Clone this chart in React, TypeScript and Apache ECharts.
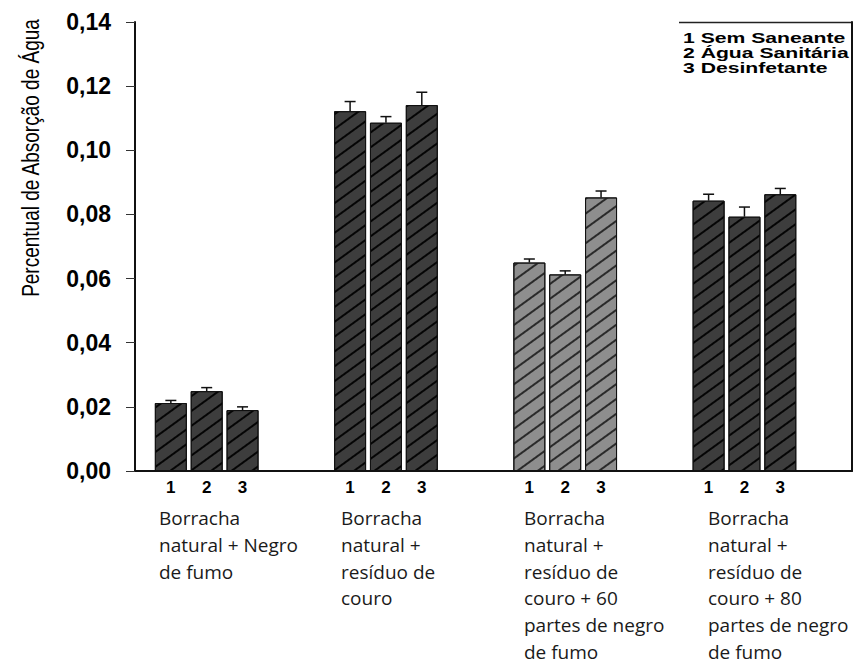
import React, { useEffect, useRef } from "react";
import * as echarts from "echarts";

const groupLabels = [
  "Borracha\nnatural + Negro\nde fumo",
  "Borracha\nnatural +\nresíduo de\ncouro",
  "Borracha\nnatural +\nresíduo de\ncouro + 60\npartes de negro\nde fumo",
  "Borracha\nnatural +\nresíduo de\ncouro + 80\npartes de negro\nde fumo",
];
const treatmentTicks = ["1", "2", "3"];
const legendLines = ["1 Sem Saneante", "2 Água Sanitária", "3 Desinfetante"];
const yTitle = "Percentual de Absorção de Água";

// means per treatment (one value per group)
const semSaneante = [0.0212, 0.1122, 0.065, 0.0843];
const aguaSanitaria = [0.0249, 0.1086, 0.0613, 0.0793];
const desinfetante = [0.019, 0.1141, 0.0853, 0.0863];
// upper error per treatment
const errSemSaneante = [0.0008, 0.003, 0.0011, 0.002];
const errAguaSanitaria = [0.0011, 0.0019, 0.0011, 0.003];
const errDesinfetante = [0.001, 0.004, 0.002, 0.0018];

const yTicks = { min: 0, max: 0.14, interval: 0.02 };

export default function App() {
  const ref = useRef<HTMLDivElement>(null);
  useEffect(() => {
    if (!ref.current) return;
    const chart = echarts.init(ref.current, null, { renderer: "svg" });
    const means = [semSaneante, aguaSanitaria, desinfetante];
    const errs = [errSemSaneante, errAguaSanitaria, errDesinfetante];
    const slot = (g: number, t: number) => 1 + g * 5 + t;
    const barData: any[] = [];
    const errData: any[] = [];
    for (let g = 0; g < groupLabels.length; g++) {
      for (let t = 0; t < 3; t++) {
        const light = g === 2;
        barData.push({
          value: [slot(g, t), means[t][g]],
          itemStyle: {
            color: light ? "#8e8e8e" : "#3d3d3d",
            borderColor: "#111",
            borderWidth: 1,
            decal: {
              symbol: "rect",
              symbolSize: 1,
              color: light ? "#2a2a2a" : "#050505",
              dashArrayX: [1, 0],
              dashArrayY: [1.3, 10],
              rotation: -Math.PI / 5,
            },
          },
        });
        errData.push([slot(g, t), means[t][g], errs[t][g]]);
      }
    }
    const descX = [159, 341, 524, 708];
    const graphics: any[] = [
      {
        type: "text",
        x: 31,
        y: 158,
        rotation: Math.PI / 2,
        scaleY: 1.25,
        style: {
          text: yTitle,
          fontSize: 19,
          fontFamily: "Liberation Sans, Arial, sans-serif",
          fill: "#000",
          align: "center",
          verticalAlign: "middle",
        },
      },
      {
        type: "text",
        x: 683,
        y: 31,
        scaleX: 1.46,
        style: {
          text: legendLines.join("\n"),
          fontSize: 14.5,
          fontWeight: "bold",
          lineHeight: 14.7,
          fontFamily: "Liberation Sans, Arial, sans-serif",
          fill: "#000",
          align: "left",
          verticalAlign: "top",
        },
      },
      {
        type: "line",
        shape: { x1: 679, y1: 22.5, x2: 852, y2: 22.5 },
        style: { stroke: "#222", lineWidth: 1.5 },
      },
      ...groupLabels.map((txt, i) => ({
        type: "text",
        x: descX[i],
        y: 505,
        style: {
          text: txt,
          fontSize: 19,
          lineHeight: 26.7,
          fontFamily: "Open Sans, sans-serif",
          fill: "#1a1a1a",
          align: "left",
          verticalAlign: "top",
        },
      })),
    ];
    chart.setOption({
      animation: false,
      backgroundColor: "#fff",
      grid: { left: 135, top: 22, right: 6, bottom: 197, containLabel: false, outerBoundsMode: "none" },
      xAxis: [
        {
          type: "value",
          min: 0,
          max: 20,
          interval: 1,
          splitLine: { show: false },
          axisTick: { show: false },
          axisLine: { show: true, onZero: false, lineStyle: { color: "#111", width: 2 } },
          axisLabel: {
            margin: 8,
            fontSize: 17,
            fontWeight: "bold",
            color: "#000",
            fontFamily: "Liberation Sans, Arial, sans-serif",
            formatter: (v: number) => {
              const k = Math.round(v) - 1;
              if (k < 0) return "";
              const g = Math.floor(k / 5);
              const t = k % 5;
              return g < groupLabels.length && t < 3 ? treatmentTicks[t] : "";
            },
          },
        },
      ],
      yAxis: [
        {
          type: "value",
          position: "left",
          min: yTicks.min,
          max: yTicks.max,
          interval: yTicks.interval,
          splitLine: { show: false },
          axisLine: { show: true, onZero: false, lineStyle: { color: "#111", width: 2 } },
          axisTick: { show: true, inside: false, length: 9, lineStyle: { color: "#333", width: 1 } },
          axisLabel: {
            margin: 24,
            fontSize: 23,
            fontWeight: "bold",
            color: "#000",
            fontFamily: "Liberation Sans, Arial, sans-serif",
            formatter: (v: number) => v.toFixed(2).replace(".", ","),
          },
        },
        {
          type: "value",
          position: "right",
          min: yTicks.min,
          max: yTicks.max,
          interval: yTicks.interval,
          splitLine: { show: false },
          axisLine: { show: true, onZero: false, lineStyle: { color: "#111", width: 2 } },
          axisTick: { show: false },
          axisLabel: { show: false },
        },
      ],
      series: [
        { type: "bar", barWidth: 32, data: barData, z: 2 },
        {
          type: "custom",
          z: 3,
          data: errData,
          encode: { x: 0, y: 1 },
          renderItem: (params: any, api: any) => {
            const x = api.value(0);
            const m = api.value(1);
            const e = api.value(2);
            const p0 = api.coord([x, m]);
            const p1 = api.coord([x, m + e]);
            return {
              type: "group",
              children: [
                { type: "line", shape: { x1: p0[0], y1: p0[1], x2: p1[0], y2: p1[1] }, style: { stroke: "#111", lineWidth: 1.5 } },
                { type: "line", shape: { x1: p1[0] - 5.5, y1: p1[1], x2: p1[0] + 5.5, y2: p1[1] }, style: { stroke: "#111", lineWidth: 1.5 } },
              ],
            };
          },
        },
      ],
      graphic: graphics,
    });
    return () => chart.dispose();
  }, []);
  return <div ref={ref} style={{ position: "absolute", left: 0, top: 0, width: 858, height: 668, background: "#fff" }} />;
}
